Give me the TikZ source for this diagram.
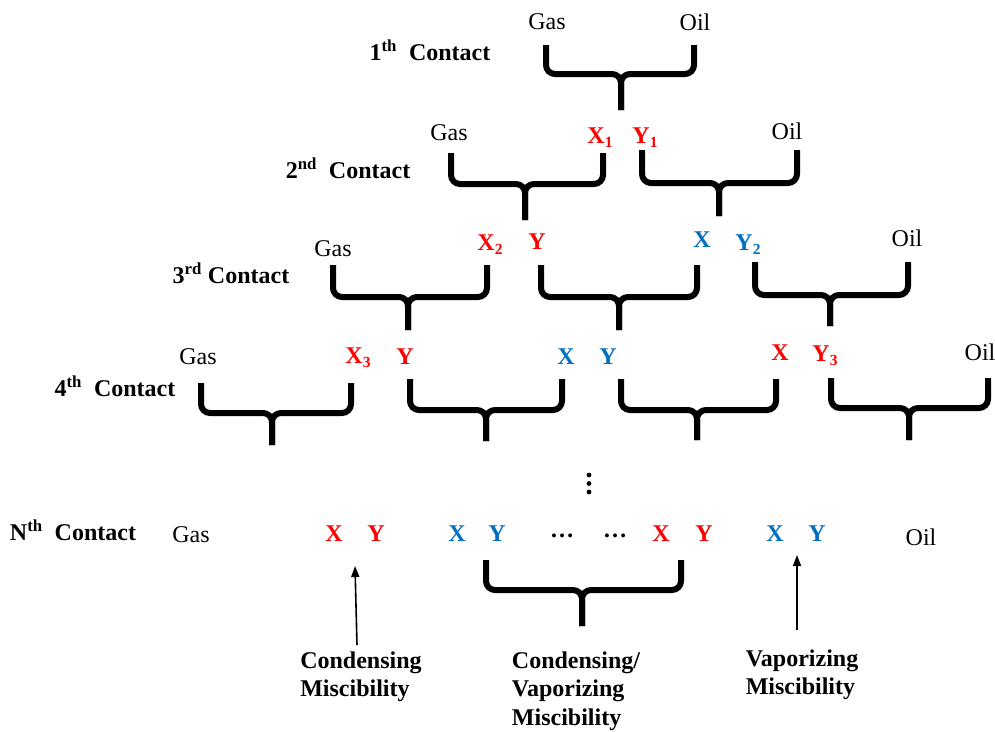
\documentclass[tikz,border=0pt]{standalone}
\usepackage{fontspec}
\setmainfont{Liberation Serif}
\usetikzlibrary{arrows.meta}
\definecolor{myred}{RGB}{255,0,0}
\definecolor{myblue}{RGB}{0,112,192}
\newcommand\lidx[1]{\raisebox{-0.35ex}{\fontsize{15.5}{15.5}\selectfont #1}}
\newcommand\brk[6]{%
  \draw[bracestyle] (#1,#4) -- (#1,#5) -- (#3,#5) -- (#3,#6);
  \draw[bracestyle] (#2,#4) -- (#2,#5) -- (#3,#5) -- (#3,#6);}
\tikzset{
  bracestyle/.style={line width=6pt, rounded corners=9pt},
  plain/.style={font=\fontsize{24}{28}\selectfont, inner sep=0pt},
  lbl/.style={font=\fontsize{24}{28}\selectfont\bfseries, inner sep=0pt},
  rd/.style={lbl, text=myred},
  bl/.style={lbl, text=myblue},
  arr/.style={line width=1.6pt, -{Triangle[length=11pt,width=8pt]}},
  mlbl/.style={font=\fontsize{24}{28.5}\selectfont\bfseries, inner sep=0pt, align=left}
}
\begin{document}
\begin{tikzpicture}[x=1pt,y=-1pt]
\useasboundingbox (0,0) rectangle (995,731);
% row 1
\node[plain] (g1) at (547,22) {Gas};
\node[plain] (o1) at (695,22) {Oil};
\node[lbl] (c1) at (430,50) {1\textsuperscript{th}\ \ Contact};
\brk{546}{694}{621}{45}{74}{110}
% row 2
\node[lbl] (c2) at (348,168) {2\textsuperscript{nd}\ \ Contact};
\node[plain] (g2) at (449,133) {Gas};
\node[rd] (x21) at (600,138) {X\lidx{1}};
\node[rd] (y21) at (645,138) {Y\lidx{1}};
\node[plain] (o2) at (787,131) {Oil};
\brk{451}{603}{525}{153}{184}{220}
\brk{642}{797}{719}{150}{183}{216}
% row 3
\node[lbl] (c3) at (231,273) {3\textsuperscript{rd} Contact};
\node[plain] (g3) at (333,249) {Gas};
\node[rd] (x31) at (490,245) {X\lidx{2}};
\node[rd] (y31) at (537,242) {Y};
\node[bl] (x32) at (702,240) {X};
\node[bl] (y32) at (748,245) {Y\lidx{2}};
\node[plain] (o3) at (907,238) {Oil};
\brk{333}{487}{408}{265}{297}{330}
\brk{541}{697}{619}{265}{297}{330}
\brk{755}{908}{830}{262}{295}{326}
% row 4
\node[lbl] (c4) at (115,386) {4\textsuperscript{th}\ \ Contact};
\node[plain] (g4) at (198,357) {Gas};
\node[rd] (x41) at (358,358) {X\lidx{3}};
\node[rd] (y41) at (405,357) {Y};
\node[bl] (x42) at (566,357) {X};
\node[bl] (y42) at (608,357) {Y};
\node[rd] (x43) at (780,353) {X};
\node[rd] (y43) at (825,356) {Y\lidx{3}};
\node[plain] (o4) at (980,352) {Oil};
\brk{201}{351}{272}{383}{413}{445}
\brk{410}{562}{486}{379}{410}{441}
\brk{621}{776}{697}{379}{410}{440}
\brk{831}{988}{909}{378}{408}{440}
% vertical dots
\fill (589,475) circle (2.4);
\fill (589,483.5) circle (2.4);
\fill (589,492) circle (2.4);
% row N
\node[lbl] (cn) at (73,530) {N\textsuperscript{th}\ \ Contact};
\node[plain] (gn) at (191,535) {Gas};
\node[rd] (xn1) at (334,534) {X};
\node[rd] (yn1) at (376,534) {Y};
\node[bl] (xn2) at (457,534) {X};
\node[bl] (yn2) at (497,534) {Y};
\node[lbl] (d1) at (562,536) {\ldots};
\node[lbl] (d2) at (615,536) {\ldots};
\node[rd] (xn3) at (661,534) {X};
\node[rd] (yn3) at (704,534) {Y};
\node[bl] (xn4) at (775,534) {X};
\node[bl] (yn4) at (817,534) {Y};
\node[plain] (on) at (921,537) {Oil};
\brk{486}{681}{582}{560}{590}{626}
% arrows
\coordinate (a1s) at (357,645);
\coordinate (a1e) at (355,566);
\coordinate (a2s) at (797,630);
\coordinate (a2e) at (797,555);
\draw[arr] (a1s) -- (a1e);
\draw[arr] (a2s) -- (a2e);
% bottom labels
\node[mlbl] (cm) at (361,677) {Condensing\\Miscibility};
\node[mlbl] (cvm) at (576,691) {Condensing/\\Vaporizing\\Miscibility};
\node[mlbl] (vm) at (802,675) {Vaporizing\\Miscibility};
\end{tikzpicture}
\end{document}
